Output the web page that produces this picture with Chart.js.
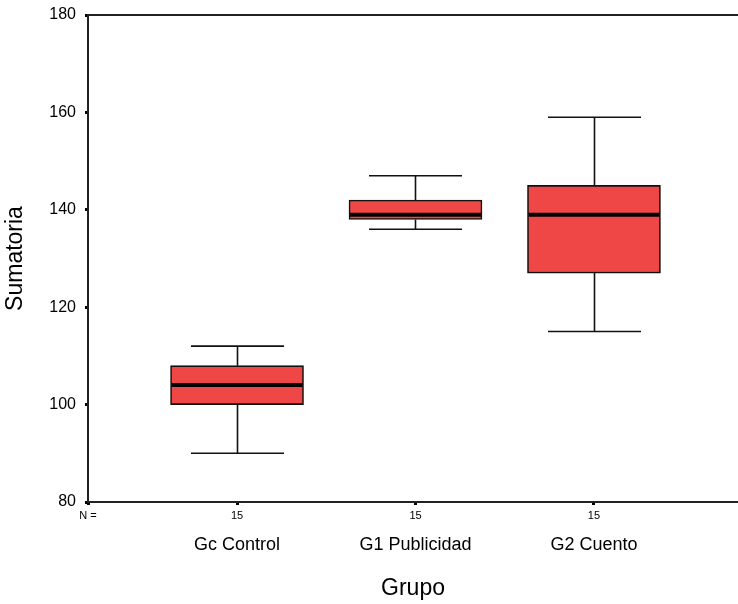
<!DOCTYPE html>
<html>
<head>
<meta charset="utf-8">
<script src="https://cdn.jsdelivr.net/npm/chart.js@4/dist/chart.umd.min.js"></script>
<style>
  html, body { margin: 0; padding: 0; background: #fff; }
  #wrap { width: 738px; height: 604px; }
</style>
</head>
<body>
<div id="wrap"><canvas id="c" width="738" height="604"></canvas></div>
<script>
// ---- Data ----
const categories = ['Gc Control', 'G1 Publicidad', 'G2 Cuento'];
const nValues = [15, 15, 15];
const whiskerLow = [90, 136, 115];
const q1 = [100, 138, 127];
const median = [104, 139, 139];
const q3 = [108, 142, 145];
const whiskerHigh = [112, 147, 159];
const yTicks = [80, 100, 120, 140, 160, 180];
const nLabel = 'N =';
const yTitle = 'Sumatoria';
const xTitle = 'Grupo';

// ---- Styles ----
const FONT = "'Liberation Sans', Arial, sans-serif";
const BOX_FILL = 'rgb(239,70,70)';
const LINE = '#111';
const BOX_WIDTH = 133;
const CAP_WIDTH = 93;
const X_MIN = 0.165, X_MAX = 3.807;

const positions = categories.map((c, i) => i + 1);

const boxPlugin = {
  id: 'boxParts',
  beforeDatasetsDraw(chart) {
    const { ctx, scales: { x, y }, chartArea } = chart;
    ctx.save();
    // top frame line
    ctx.strokeStyle = '#222';
    ctx.lineWidth = 2;
    ctx.beginPath();
    ctx.moveTo(chartArea.left, chartArea.top);
    ctx.lineTo(chartArea.right, chartArea.top);
    ctx.stroke();
    // whiskers and caps
    ctx.strokeStyle = LINE;
    ctx.lineWidth = 1.6;
    positions.forEach((p, i) => {
      const px = Math.round(x.getPixelForValue(p)) + 0.5;
      const yLo = y.getPixelForValue(whiskerLow[i]);
      const yQ1 = y.getPixelForValue(q1[i]);
      const yQ3 = y.getPixelForValue(q3[i]);
      const yHi = y.getPixelForValue(whiskerHigh[i]);
      ctx.beginPath();
      ctx.moveTo(px, yLo); ctx.lineTo(px, yQ1);
      ctx.moveTo(px, yQ3); ctx.lineTo(px, yHi);
      ctx.moveTo(px - CAP_WIDTH / 2, yLo); ctx.lineTo(px + CAP_WIDTH / 2, yLo);
      ctx.moveTo(px - CAP_WIDTH / 2, yHi); ctx.lineTo(px + CAP_WIDTH / 2, yHi);
      ctx.stroke();
    });
    ctx.restore();
  },
  afterDatasetsDraw(chart) {
    const { ctx, scales: { x, y } } = chart;
    ctx.save();
    ctx.strokeStyle = '#000';
    ctx.lineWidth = 4;
    positions.forEach((p, i) => {
      const px = x.getPixelForValue(p);
      const ym = y.getPixelForValue(median[i]);
      ctx.beginPath();
      ctx.moveTo(px - BOX_WIDTH / 2 + 1, ym);
      ctx.lineTo(px + BOX_WIDTH / 2 - 1, ym);
      ctx.stroke();
    });
    ctx.restore();
  }
};

new Chart(document.getElementById('c'), {
  type: 'bar',
  data: {
    datasets: [{
      data: positions.map((p, i) => ({ x: p, y: [q1[i], q3[i]] })),
      backgroundColor: BOX_FILL,
      borderColor: LINE,
      borderWidth: 1.6,
      borderSkipped: false,
      barThickness: BOX_WIDTH
    }]
  },
  options: {
    responsive: false,
    devicePixelRatio: 1,
    animation: false,
    layout: { padding: { top: 15, right: 0, left: 0, bottom: 0 } },
    plugins: { legend: { display: false }, tooltip: { enabled: false } },
    scales: {
      x: {
        type: 'linear',
        position: 'bottom',
        weight: 0,
        offset: false,
        min: X_MIN, max: X_MAX,
        afterBuildTicks: s => { s.ticks = [X_MIN, ...positions].map(v => ({ value: v })); },
        afterFit: s => { s.height = 22; s.paddingLeft = 0; s.paddingRight = 0; },
        grid: { display: true, offset: false, drawOnChartArea: false, drawTicks: true, tickLength: 3, tickWidth: 3, tickColor: '#000' },
        border: { display: true, color: '#222', width: 2 },
        ticks: {
          autoSkip: false, maxRotation: 0, padding: 4,
          color: '#000',
          font: { family: FONT, size: 11 },
          callback: (v) => v === X_MIN ? nLabel : String(nValues[Math.round(v) - 1])
        }
      },
      x2: {
        type: 'linear',
        position: 'bottom',
        weight: 1,
        offset: false,
        min: X_MIN, max: X_MAX,
        afterBuildTicks: s => { s.ticks = positions.map(v => ({ value: v })); },
        afterFit: s => { s.height = 80; s.paddingLeft = 0; s.paddingRight = 0; },
        grid: { display: false, offset: false, drawTicks: false },
        border: { display: false },
        ticks: {
          autoSkip: false, maxRotation: 0, padding: 10,
          color: '#000',
          font: { family: FONT, size: 18 },
          callback: (v) => categories[Math.round(v) - 1]
        },
        title: {
          display: true, text: xTitle, color: '#000',
          font: { family: FONT, size: 23, lineHeight: 1 },
          padding: { top: 0, bottom: 4 }
        }
      },
      y: {
        type: 'linear',
        min: yTicks[0], max: yTicks[yTicks.length - 1],
        afterBuildTicks: s => { s.ticks = yTicks.map(v => ({ value: v })); },
        afterFit: s => { s.width = 88; s.paddingTop = 0; s.paddingBottom = 0; },
        grid: { display: true, drawOnChartArea: false, drawTicks: true, tickLength: 3, tickWidth: 3, tickColor: '#000' },
        border: { display: true, color: '#222', width: 2 },
        ticks: {
          padding: 9, color: '#000',
          font: { family: FONT, size: 16 }
        },
        title: {
          display: true, text: yTitle, color: '#000',
          font: { family: FONT, size: 23, lineHeight: 1 },
          padding: { top: 4, bottom: 0 }
        }
      }
    }
  },
  plugins: [boxPlugin]
});
</script>
</body>
</html>
